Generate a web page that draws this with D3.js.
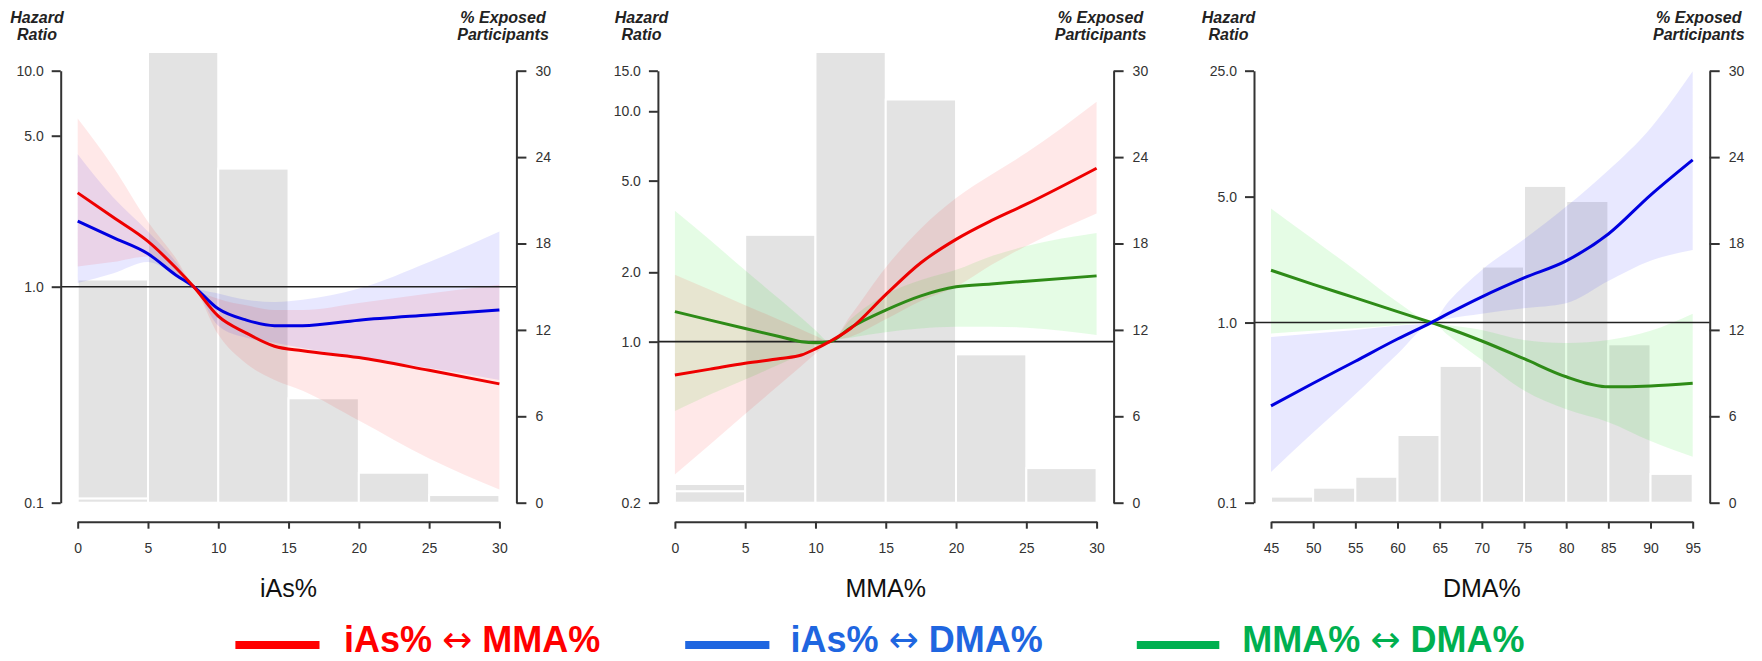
<!DOCTYPE html>
<html>
<head>
<meta charset="utf-8">
<script src="https://cdn.jsdelivr.net/npm/d3@7"></script>
<style>
body { margin: 0; background: white; }
svg { display: block; font-family: "Liberation Sans", Arial, sans-serif; }
</style>
</head>
<body>
<div id="chart"></div>
<script>

// ---- panel 1 : iAs% ----
const iasX      = [0, 2.5, 5, 7, 8.25, 10, 12, 14, 16, 20, 25, 30]
const iasMmaHR  = [2.72, 2.1, 1.62, 1.22, 1.0, 0.73, 0.61, 0.53, 0.505, 0.47, 0.41, 0.355]
const iasMmaLo  = [1.24, 1.3, 1.38, 1.15, 1.0, 0.6, 0.44, 0.37, 0.33, 0.24, 0.16, 0.115]
const iasMmaHi  = [6.0, 3.6, 2.0, 1.35, 1.0, 0.88, 0.82, 0.78, 0.78, 0.84, 0.93, 1.02]
const iasDmaHR  = [2.01, 1.69, 1.42, 1.13, 1.0, 0.79, 0.70, 0.66, 0.66, 0.70, 0.74, 0.78]
const iasDmaLo  = [1.04, 1.15, 1.3, 1.12, 1.0, 0.66, 0.58, 0.55, 0.52, 0.47, 0.42, 0.37]
const iasDmaHi  = [4.1, 2.6, 1.8, 1.3, 1.0, 0.93, 0.87, 0.85, 0.87, 0.98, 1.3, 1.8]
const iasBinStart = [0, 5, 10, 15, 20, 25]
const iasBarPct   = [15.5, 31.3, 23.2, 7.25, 2.08, 0.53]
const iasBarSplit = [0.3, 0, 0, 0, 0, 0]

// ---- panel 2 : MMA% ----
const mmaX      = [0, 2.5, 5, 7.5, 9, 10, 11, 12.5, 15, 17.5, 20, 22.5, 25, 30]
const mmaIasHR  = [0.717, 0.76, 0.806, 0.845, 0.875, 0.93, 1.0, 1.14, 1.6, 2.2, 2.78, 3.35, 3.95, 5.66]
const mmaIasLo  = [0.265, 0.358, 0.485, 0.655, 0.785, 0.887, 1.0, 1.05, 1.25, 1.5, 1.73, 2.15, 2.6, 3.6]
const mmaIasHi  = [1.95, 1.68, 1.44, 1.24, 1.13, 1.06, 1.0, 1.3, 2.1, 3.1, 4.2, 5.3, 6.6, 11]
const mmaDmaHR  = [1.35, 1.24, 1.14, 1.05, 1.0, 0.99, 1.0, 1.15, 1.37, 1.58, 1.73, 1.78, 1.83, 1.93]
const mmaDmaLo  = [0.5, 0.59, 0.685, 0.80, 0.88, 0.94, 1.0, 1.04, 1.1, 1.14, 1.16, 1.16, 1.15, 1.07]
const mmaDmaHi  = [3.7, 2.76, 2.04, 1.52, 1.27, 1.12, 1.0, 1.25, 1.6, 1.85, 2.05, 2.35, 2.6, 2.96]
const mmaBinStart = [0, 5, 10, 15, 20, 25]
const mmaBarPct   = [1.3, 18.6, 31.3, 28.0, 10.3, 2.4]
const mmaBarSplit = [0.8, 0, 0, 0, 0, 0]

// ---- panel 3 : DMA% ----
const dmaX      = [45, 50, 55, 60, 64, 66, 70, 75, 80, 85, 90, 95]
const dmaIasHR  = [0.345, 0.46, 0.61, 0.81, 1.0, 1.12, 1.39, 1.77, 2.2, 3.1, 5.1, 8.0]
const dmaIasLo  = [0.148, 0.245, 0.40, 0.67, 1.0, 1.05, 1.12, 1.2, 1.28, 1.7, 2.2, 2.53]
const dmaIasHi  = [0.83, 0.87, 0.91, 0.96, 1.0, 1.3, 1.96, 2.9, 4.4, 7.0, 12, 24.8]
const dmaMmaHR  = [1.95, 1.63, 1.37, 1.15, 1.0, 0.93, 0.79, 0.63, 0.50, 0.44, 0.445, 0.46]
const dmaMmaLo  = [0.87, 0.9, 0.93, 0.97, 1.0, 0.85, 0.62, 0.42, 0.33, 0.28, 0.22, 0.18]
const dmaMmaHi  = [4.3, 2.9, 1.95, 1.3, 1.0, 0.97, 0.91, 0.8, 0.77, 0.8, 0.9, 1.12]
const dmaBinStart = [45, 50, 55, 60, 65, 70, 75, 80, 85, 90]
const dmaBarPct   = [0.42, 1.04, 1.8, 4.7, 9.5, 16.4, 22.0, 20.95, 11.0, 2.0]
const dmaBarSplit = [0, 0, 0, 0, 0, 0, 0, 0, 0, 0]

// ticks
const pctTicks = [0, 6, 12, 18, 24, 30]
const iasHrTicks = [0.1, 1, 5, 10]
const mmaHrTicks = [0.2, 1, 2, 5, 10, 15]
const dmaHrTicks = [0.1, 1, 5, 25]
const iasXTicks = [0, 5, 10, 15, 20, 25, 30]
const mmaXTicks = [0, 5, 10, 15, 20, 25, 30]
const dmaXTicks = [45, 50, 55, 60, 65, 70, 75, 80, 85, 90, 95]

const pairNames = ["iAs% \u2194 MMA%", "iAs% \u2194 DMA%", "MMA% \u2194 DMA%"]
const lineColors = ["#ee0000", "#0000e0", "#2e8b17"]
const bandColors = ["rgba(255,0,0,0.09)", "rgba(0,0,255,0.09)", "rgba(0,230,0,0.10)"]
const legendColors = ["#ff0000", "#1f66e0", "#00b050"]

const width = 1762
const height = 661
const yTop = 70.7
const yBot = 502.7
const xAxisY = 521.7
const plotW = 421.7

var svg = d3.select("#chart").append("svg")
    .attr("width", width)
    .attr("height", height)

function makeSeries(xs, hr, lo, hi, k) {
    return { k: k, pts: xs.map((x, i) => ({ x: x, hr: hr[i], lo: lo[i], hi: hi[i] })) }
}

const panels = [
    {
        x0: 77.7, hazX: 37, expX: 503, title: "iAs%",
        xDomain: [0, 30], xTicks: iasXTicks, hrDomain: [0.1, 10], hrTicks: iasHrTicks,
        bins: iasBinStart, bars: iasBarPct, split: iasBarSplit,
        series: [makeSeries(iasX, iasDmaHR, iasDmaLo, iasDmaHi, 1), makeSeries(iasX, iasMmaHR, iasMmaLo, iasMmaHi, 0)]
    },
    {
        x0: 674.9, hazX: 641.5, expX: 1100.5, title: "MMA%",
        xDomain: [0, 30], xTicks: mmaXTicks, hrDomain: [0.2, 15], hrTicks: mmaHrTicks,
        bins: mmaBinStart, bars: mmaBarPct, split: mmaBarSplit,
        series: [makeSeries(mmaX, mmaDmaHR, mmaDmaLo, mmaDmaHi, 2), makeSeries(mmaX, mmaIasHR, mmaIasLo, mmaIasHi, 0)]
    },
    {
        x0: 1271, hazX: 1228.5, expX: 1698.8, title: "DMA%",
        xDomain: [45, 95], xTicks: dmaXTicks, hrDomain: [0.1, 25], hrTicks: dmaHrTicks,
        bins: dmaBinStart, bars: dmaBarPct, split: dmaBarSplit,
        series: [makeSeries(dmaX, dmaMmaHR, dmaMmaLo, dmaMmaHi, 2), makeSeries(dmaX, dmaIasHR, dmaIasLo, dmaIasHi, 1)]
    }
]

function styleAxis(g) {
    g.select(".domain").style("stroke", "#333").style("stroke-width", 2)
    g.selectAll(".tick line").style("stroke", "#333").style("stroke-width", 2)
    g.selectAll(".tick text").style("font-size", "14px").style("fill", "#333")
        .style("font-family", "\"Liberation Sans\", Arial, sans-serif")
}

panels.forEach(function(p) {
    const x = d3.scaleLinear().domain(p.xDomain).range([p.x0, p.x0 + plotW])
    const y = d3.scaleLog().domain(p.hrDomain).range([yBot, yTop])
    const pct = d3.scaleLinear().domain([0, 30]).range([yBot, yTop])
    const leftX = p.x0 - 17
    const rightX = p.x0 + plotW + 17

    const g = svg.append("g")
    const step = p.bins[1] - p.bins[0]

    // histogram of exposure
    p.bins.forEach(function(b, i) {
        const parts = p.split[i] > 0 ? [[0, p.split[i]], [p.split[i], p.bars[i]]] : [[0, p.bars[i]]]
        parts.forEach(function(seg) {
            g.append("rect")
                .attr("x", x(b))
                .attr("width", x(b + step) - x(b))
                .attr("y", pct(seg[1]))
                .attr("height", pct(seg[0]) - pct(seg[1]))
                .style("fill", "#e3e3e3")
                .style("stroke", "white")
                .style("stroke-width", 2)
        })
    })

    const area = d3.area()
        .x(d => x(d.x))
        .y0(d => y(d.lo))
        .y1(d => y(d.hi))
        .curve(d3.curveMonotoneX)

    const line = d3.line()
        .x(d => x(d.x))
        .y(d => y(d.hr))
        .curve(d3.curveMonotoneX)

    p.series.forEach(function(s) {
        g.append("path")
            .attr("d", area(s.pts))
            .style("fill", bandColors[s.k])
            .style("stroke", "none")
    })

    // HR = 1 reference
    g.append("line")
        .attr("x1", leftX)
        .attr("x2", rightX)
        .attr("y1", y(1))
        .attr("y2", y(1))
        .style("stroke", "#222")
        .style("stroke-width", 1.6)

    p.series.forEach(function(s) {
        g.append("path")
            .attr("d", line(s.pts))
            .style("fill", "none")
            .style("stroke", lineColors[s.k])
            .style("stroke-width", 3)
    })

    // axes
    g.append("g")
        .attr("transform", "translate(" + leftX + ",0)")
        .call(d3.axisLeft(y).tickValues(p.hrTicks).tickFormat(d3.format(".1f"))
            .tickSize(9).tickSizeOuter(0).tickPadding(8))
        .call(styleAxis)

    g.append("g")
        .attr("transform", "translate(" + rightX + ",0)")
        .call(d3.axisRight(pct).tickValues(pctTicks).tickSize(10).tickSizeOuter(0).tickPadding(9))
        .call(styleAxis)

    g.append("g")
        .attr("transform", "translate(0," + xAxisY + ")")
        .call(d3.axisBottom(x).tickValues(p.xTicks).tickSize(7).tickSizeOuter(0).tickPadding(14))
        .call(styleAxis)

    g.append("text")
        .attr("x", p.x0 + plotW / 2)
        .attr("y", 597)
        .attr("text-anchor", "middle")
        .style("font-size", "25px")
        .style("fill", "#111")
        .text(p.title)

    const hz = g.append("text")
        .attr("text-anchor", "middle")
        .style("font-size", "16px")
        .style("font-weight", "bold")
        .style("font-style", "italic")
        .style("fill", "#222")
    hz.append("tspan").attr("x", p.hazX).attr("y", 23).text("Hazard")
    hz.append("tspan").attr("x", p.hazX).attr("y", 40).text("Ratio")

    const ex = g.append("text")
        .attr("text-anchor", "middle")
        .style("font-size", "16px")
        .style("font-weight", "bold")
        .style("font-style", "italic")
        .style("fill", "#222")
    ex.append("tspan").attr("x", p.expX).attr("y", 23).text("% Exposed")
    ex.append("tspan").attr("x", p.expX).attr("y", 40).text("Participants")
})

// legend
const legendX = [[235.4, 319.5, 344], [685.2, 769.4, 790.5], [1136.8, 1219.3, 1242.3]]
const legendY = 645

pairNames.forEach(function(name, i) {
    const pos = legendX[i]
    svg.append("line")
        .attr("x1", pos[0])
        .attr("x2", pos[1])
        .attr("y1", legendY)
        .attr("y2", legendY)
        .style("stroke", legendColors[i])
        .style("stroke-width", 8)

    const parts = name.split("\u2194")
    const t = svg.append("text")
        .attr("x", pos[2])
        .attr("y", 652)
        .style("font-size", "36px")
        .style("font-weight", "bold")
        .style("fill", legendColors[i])
    t.append("tspan").text(parts[0])
    t.append("tspan")
        .style("font-family", "\"DejaVu Sans\", sans-serif")
        .style("font-weight", "normal")
        .style("font-size", "36px")
        .text("\u2194")
    t.append("tspan").text(parts[1])
})

</script>
</body>
</html>
